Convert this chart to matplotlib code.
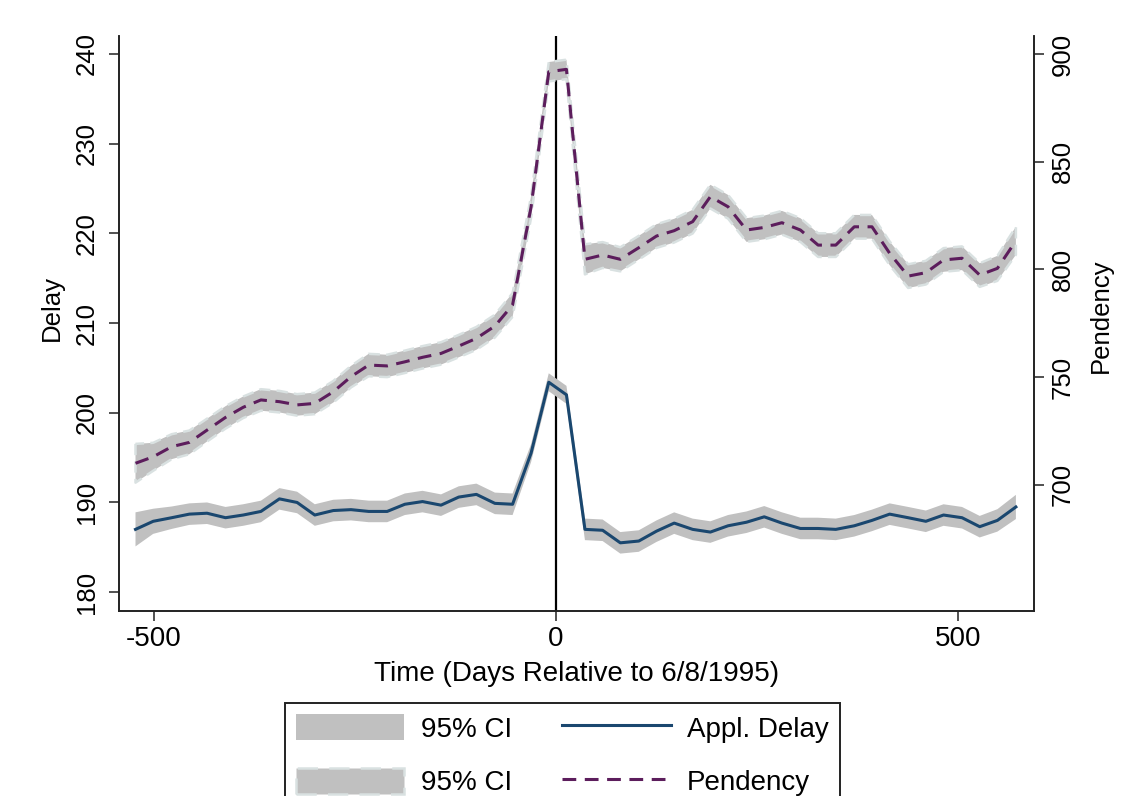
import matplotlib
matplotlib.use('Agg')
import matplotlib.pyplot as plt
from matplotlib import font_manager

# days relative to 6/8/1995 (bin centres)
days = [-523, -501, -478, -456, -434, -411, -389, -367, -344, -322,
        -300, -277, -255, -233, -210, -188, -166, -143, -121, -99,
        -76, -54, -31, -9, 13, 36, 58, 80, 103, 125,
        147, 170, 192, 214, 237, 259, 281, 304, 326, 348,
        371, 393, 415, 438, 460, 482, 505, 527, 549, 572]

# application delay (left axis) and 95% CI half-width
delay = [187.0, 187.9, 188.3, 188.7, 188.8, 188.3, 188.6, 189.0, 190.4, 190.0,
         188.6, 189.1, 189.2, 189.0, 189.0, 189.8, 190.1, 189.7, 190.6, 190.9,
         189.9, 189.8, 195.5, 203.4, 202.0, 187.0, 186.9, 185.5, 185.7, 186.8,
         187.7, 187.0, 186.7, 187.4, 187.8, 188.4, 187.7, 187.1, 187.1, 187.0,
         187.4, 188.0, 188.7, 188.3, 187.9, 188.6, 188.3, 187.3, 188.0, 189.5]
delay_ci = [1.9, 1.4, 1.25, 1.2, 1.2, 1.2, 1.2, 1.2, 1.2, 1.2,
            1.2, 1.2, 1.2, 1.2, 1.2, 1.2, 1.2, 1.2, 1.2, 1.2,
            1.2, 1.2, 1.0, 1.0, 1.0, 1.2, 1.2, 1.2, 1.2, 1.2,
            1.2, 1.2, 1.2, 1.2, 1.2, 1.2, 1.2, 1.2, 1.2, 1.2,
            1.2, 1.2, 1.2, 1.2, 1.2, 1.2, 1.2, 1.2, 1.25, 1.35]

# pendency (right axis) and 95% CI half-width
pendency = [710.0, 713.0, 717.7, 719.7, 725.4, 731.3, 736.0, 739.4, 738.6, 737.1,
            737.8, 743.2, 750.2, 755.6, 755.2, 757.1, 759.2, 761.0, 764.4, 768.0,
            773.7, 783.5, 829.0, 891.8, 892.9, 804.7, 806.7, 804.7, 810.1, 815.5,
            818.0, 822.2, 833.8, 829.1, 818.3, 819.5, 821.7, 818.3, 811.3, 811.3,
            819.8, 819.8, 807.5, 796.9, 798.5, 804.4, 805.2, 797.4, 800.5, 813.3]
pend_ci = [9.0, 6.5, 5.8, 5.5, 5.3, 5.2, 5.0, 5.0, 5.0, 5.0,
           5.0, 5.0, 5.0, 5.2, 5.2, 5.2, 5.2, 5.2, 5.2, 5.3,
           5.3, 5.5, 5.0, 4.5, 4.5, 7.0, 6.0, 5.6, 5.5, 5.5,
           5.5, 5.5, 5.5, 5.5, 5.5, 5.5, 5.5, 5.5, 5.5, 5.5,
           5.5, 5.5, 5.5, 5.5, 5.5, 5.5, 5.5, 5.5, 5.8, 6.5]

x_ticks = [-500, 0, 500]
left_ticks = [180, 190, 200, 210, 220, 230, 240]
right_ticks = [700, 750, 800, 850, 900]

NAVY = '#1a476f'
PURPLE = '#5c1d5c'
CI_GRAY = '#c0c0c0'
CI_EDGE = '#d9e1e1'

plt.rcParams['font.family'] = ['Liberation Sans', 'DejaVu Sans']
plt.rcParams['axes.unicode_minus'] = False

# the rotated labels in the original use a condensed face
installed = {f.name for f in font_manager.fontManager.ttflist}
if 'Liberation Sans Narrow' in installed:
    ROT_FAMILY = ['Liberation Sans Narrow', 'Liberation Sans']
    ROT_SIZE = 20
else:
    ROT_FAMILY = ['Liberation Sans', 'DejaVu Sans']
    ROT_SIZE = 18.5

fig = plt.figure(figsize=(11.4, 7.96), dpi=100, facecolor='white')
ax = fig.add_axes([0.1044, 0.2324, 0.8026, 0.7224])
ax2 = ax.twinx()

# vertical reference line at day 0
ax.axvline(0, color='black', lw=1.6, zorder=0.5)

d_lo = [v - c for v, c in zip(delay, delay_ci)]
d_hi = [v + c for v, c in zip(delay, delay_ci)]
band_d = ax.fill_between(days, d_lo, d_hi, facecolor=CI_GRAY, edgecolor='none',
                         lw=0, zorder=1)
line_d, = ax.plot(days, delay, color=NAVY, lw=2.2, zorder=3)

p_lo = [v - c for v, c in zip(pendency, pend_ci)]
p_hi = [v + c for v, c in zip(pendency, pend_ci)]
band_p = ax2.fill_between(days, p_lo, p_hi, facecolor=CI_GRAY, edgecolor=CI_EDGE,
                          lw=1.8, linestyle=(0, (4.5, 2.5)), zorder=1)
line_p, = ax2.plot(days, pendency, color=PURPLE, lw=2.2, dashes=(4.5, 2.8), zorder=3)

ax.set_xlim(-543.5, 594.5)
ax.set_ylim(177.9, 242.0)
ax2.set_ylim(641.4, 908.4)

ax.set_xticks(x_ticks)
ax.set_yticks(left_ticks)
ax2.set_yticks(right_ticks)

for a in (ax, ax2):
    a.spines['top'].set_visible(False)
    for s in ('left', 'right', 'bottom'):
        a.spines[s].set_linewidth(1.2)
        a.spines[s].set_color('#222222')
    a.tick_params(direction='out', length=7, width=1.1, color='#222222')

ax.tick_params(axis='x', labelsize=20, pad=4)
ax.tick_params(axis='y', pad=7.5)
ax2.tick_params(axis='y', pad=5)

for lbl in ax.get_yticklabels() + ax2.get_yticklabels():
    lbl.set_rotation(90)
    lbl.set_va('center')
    lbl.set_fontsize(ROT_SIZE)
    lbl.set_family(ROT_FAMILY)

ax.set_xlabel('Time (Days Relative to 6/8/1995)', fontsize=20, labelpad=6)
ax.set_ylabel('Delay', fontsize=ROT_SIZE, family=ROT_FAMILY, labelpad=8)
ax2.set_ylabel('Pendency', fontsize=ROT_SIZE, family=ROT_FAMILY, labelpad=10)
ax.yaxis.label.set_y(0.527)
ax2.yaxis.label.set_y(0.513)

leg = fig.legend([band_d, band_p, line_d, line_p],
                 ['95% CI', '95% CI', 'Appl. Delay', 'Pendency'],
                 ncol=2, loc='upper left', bbox_to_anchor=(0.25, 0.1168),
                 fontsize=20, frameon=True, fancybox=False, framealpha=1,
                 edgecolor='#222222', handlelength=3.9, handleheight=1.08,
                 handletextpad=0.6, columnspacing=1.8, labelspacing=0.9,
                 borderpad=0.4, borderaxespad=0)
leg.get_frame().set_linewidth(1.4)

fig.savefig('out.png', dpi=100, facecolor='white')
